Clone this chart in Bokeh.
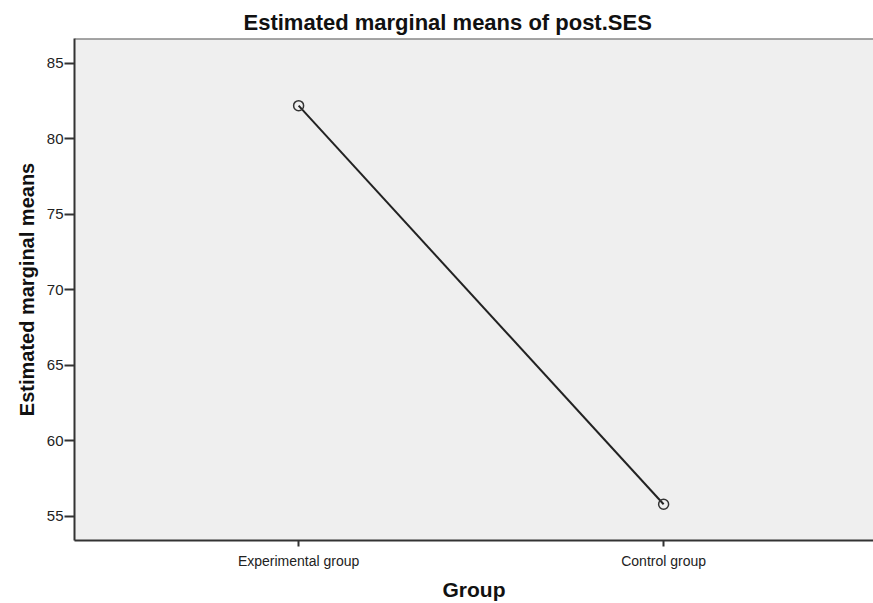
from bokeh.plotting import figure
from bokeh.models import Range1d, FixedTicker, Span, Title
from bokeh.embed import file_html
from bokeh.resources import INLINE

groups = ["Experimental group", "Control group"]
means = [82.2, 55.8]
y_ticks = [55, 60, 65, 70, 75, 80, 85]

xs = list(range(len(groups)))
y_start, y_end = 53.4, 86.65

p = figure(width=873, height=603, output_backend="svg", toolbar_location=None,
           x_range=Range1d(-0.614, 1.575), y_range=Range1d(y_start, y_end),
           min_border_left=74, min_border_right=0, min_border_top=38, min_border_bottom=62)

p.title = Title(text="Estimated marginal means of post.SES", align="left",
                text_font="Liberation Sans", text_font_size="22px", text_font_style="bold",
                text_color="#111111", offset=169, standoff=7)

p.border_fill_color = "white"
p.background_fill_color = "#EFEFEF"
p.outline_line_color = None
p.grid.visible = False

p.add_layout(Span(location=y_end, dimension="width", line_color="#555555", line_width=2))

for ax in (p.xaxis[0], p.yaxis[0]):
    ax.axis_line_color = "#333333"
    ax.axis_line_width = 2
    ax.major_tick_line_color = "#333333"
    ax.major_tick_line_width = 2
    ax.major_tick_in = 0
    ax.minor_tick_line_color = None
    ax.major_label_text_font = "Liberation Sans"
    ax.major_label_text_color = "#222222"
    ax.axis_label_text_font = "Liberation Sans"
    ax.axis_label_text_font_style = "bold"
    ax.axis_label_text_color = "#111111"

p.yaxis.ticker = FixedTicker(ticks=y_ticks)
p.yaxis.major_tick_out = 10
p.yaxis.major_label_standoff = 1
p.yaxis.major_label_text_font_size = "15px"
p.yaxis.axis_label = "Estimated marginal means"
p.yaxis.axis_label_text_font_size = "20px"
p.yaxis.axis_label_standoff = 6

p.xaxis.ticker = FixedTicker(ticks=xs)
p.xaxis.major_label_overrides = {i: g for i, g in zip(xs, groups)}
p.xaxis.major_tick_out = 6
p.xaxis.major_label_standoff = 6
p.xaxis.major_label_text_font_size = "14px"
p.xaxis.axis_label = "Group"
p.xaxis.axis_label_text_font_size = "21px"
p.xaxis.axis_label_standoff = 6

p.line(xs, means, line_color="#222222", line_width=2)
p.scatter(xs, means, marker="circle", size=10, fill_color=None,
          line_color="#333333", line_width=1.5)

open("out.html", "w").write(file_html(p, INLINE))
